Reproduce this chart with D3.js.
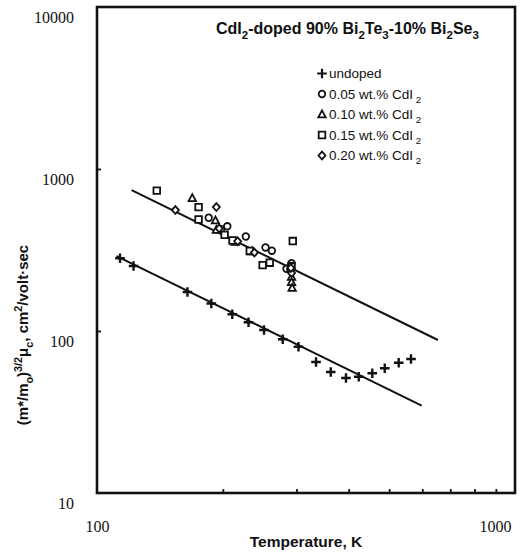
<!DOCTYPE html>
<html>
<head>
<meta charset="utf-8">
<script src="https://cdn.jsdelivr.net/npm/d3@7/dist/d3.min.js"></script>
<style>
  html, body { margin: 0; padding: 0; background: #fff; }
  svg { display: block; }
</style>
</head>
<body>
<svg id="chart" width="528" height="553"></svg>
<script>
// ---------------- DATA ----------------
const xTickLabels = [100, 1000];
const yTickLabels = [10, 100, 1000, 10000];
const xMinorTicks = [200, 300, 400, 500, 600, 700, 800, 900];
const yInnerTicks = [100, 1000];

// undoped (+)
const undopedT = [113.5, 122.3, 164.6, 187.7, 210.7, 230.4, 250.9, 278.2, 303.4, 334.2, 362.4, 394.1, 422.8, 455.6, 488.0, 527.0, 563.9];
const undopedMu = [281, 252, 174, 147.8, 126.8, 113.2, 101.4, 88.9, 80.0, 64.4, 55.8, 51.3, 52.2, 54.8, 58.9, 63.7, 67.2];

// 0.05 wt.% CdI2 (circles)
const c05T = [185, 205, 198, 227, 253, 262, 284, 292, 290, 291];
const c05Mu = [500, 443, 425, 383, 328, 313, 242, 262, 240, 252];
// 0.10 wt.% CdI2 (triangles)
const c10T = [169, 192, 193, 214, 235, 292, 292, 293];
const c10Mu = [660, 480, 420, 354, 309, 215, 200, 184];
// 0.15 wt.% CdI2 (squares)
const c15T = [139, 175, 175, 202, 211, 232, 249, 259, 294, 292];
const c15Mu = [735, 582, 488, 392, 362, 312, 255, 264, 359, 250];
// 0.20 wt.% CdI2 (diamonds)
const c20T = [154, 193, 196, 217, 238, 292, 291];
const c20Mu = [558, 582, 430, 358, 305, 228, 245];

// fitted lines (end points)
const fitDopedT = [121, 654];
const fitDopedMu = [740, 88.0];
const fitUndopedT = [111.4, 598];
const fitUndopedMu = [290, 34.6];

const legendLabels = ["undoped", "0.05 wt.% CdI", "0.10 wt.% CdI", "0.15 wt.% CdI", "0.20 wt.% CdI"];
const legendShapes = ["plus", "circle", "triangle", "square", "diamond"];

// ---------------- CHART ----------------
const svg = d3.select("#chart");
const L = 97, R = 515, T = 7, B = 493;
const x = d3.scaleLog().domain([100, 1000]).range([L, R]);
const y = d3.scaleLog().domain([10, 10000]).range([B, T]);

const ink = "#111";

// marker paths
function markerPath(shape) {
  const p = d3.path();
  if (shape === "plus") {
    const r = 4.8;
    p.moveTo(-r, 0); p.lineTo(r, 0);
    p.moveTo(0, -r); p.lineTo(0, r);
  } else if (shape === "circle") {
    p.arc(0, 0, 3.3, 0, 2 * Math.PI);
  } else if (shape === "square") {
    p.rect(-3.3, -3.3, 6.6, 6.6);
  } else if (shape === "triangle") {
    p.moveTo(0, -4.1); p.lineTo(3.7, 2.8); p.lineTo(-3.7, 2.8); p.closePath();
  } else if (shape === "diamond") {
    p.moveTo(0, -3.9); p.lineTo(3.5, 0); p.lineTo(0, 3.9); p.lineTo(-3.5, 0); p.closePath();
  }
  return p.toString();
}

// fitted lines
const line = d3.line().x(d => x(d[0])).y(d => y(d[1]));
svg.append("path")
  .attr("d", line(d3.zip(fitDopedT, fitDopedMu)))
  .attr("fill", "none").attr("stroke", ink).attr("stroke-width", 2);
svg.append("path")
  .attr("d", line(d3.zip(fitUndopedT, fitUndopedMu)))
  .attr("fill", "none").attr("stroke", ink).attr("stroke-width", 2);

// series
const series = [
  { t: undopedT, m: undopedMu, shape: "plus", sw: 2.4 },
  { t: c05T, m: c05Mu, shape: "circle", sw: 1.8 },
  { t: c10T, m: c10Mu, shape: "triangle", sw: 1.8 },
  { t: c15T, m: c15Mu, shape: "square", sw: 1.8 },
  { t: c20T, m: c20Mu, shape: "diamond", sw: 1.8 }
];
series.forEach(s => {
  svg.append("g").selectAll("path")
    .data(d3.zip(s.t, s.m))
    .join("path")
    .attr("transform", d => `translate(${x(d[0])},${y(d[1])})`)
    .attr("d", markerPath(s.shape))
    .attr("fill", s.shape === "plus" ? "none" : "#fff")
    .attr("stroke", ink)
    .attr("stroke-width", s.sw);
});

// inner ticks
svg.append("g")
  .attr("transform", `translate(0,${B})`)
  .call(d3.axisBottom(x).tickValues(xMinorTicks).tickSize(-4).tickFormat(""))
  .call(g => g.select(".domain").remove())
  .call(g => g.selectAll("line").attr("stroke", ink).attr("stroke-width", 1.8));
svg.append("g")
  .attr("transform", `translate(${L},0)`)
  .call(d3.axisLeft(y).tickValues(yInnerTicks).tickSize(-4).tickFormat(""))
  .call(g => g.select(".domain").remove())
  .call(g => g.selectAll("line").attr("stroke", ink).attr("stroke-width", 1.8));

// frame
svg.append("rect")
  .attr("x", L).attr("y", T).attr("width", R - L).attr("height", B - T)
  .attr("fill", "none").attr("stroke", ink).attr("stroke-width", 2.6);

// tick labels
const xAx = svg.append("g")
  .attr("transform", `translate(0,${B})`)
  .call(d3.axisBottom(x).tickValues(xTickLabels).tickSize(0).tickPadding(28).tickFormat(d3.format("d")));
xAx.select(".domain").remove();
xAx.selectAll("text")
  .attr("font-family", "'Liberation Serif', 'Times New Roman', serif")
  .attr("font-size", 16).attr("fill", ink)
  .attr("dx", (d, i, n) => i === n.length - 1 ? -20 : 0);

const yAx = svg.append("g")
  .attr("transform", `translate(${L},0)`)
  .call(d3.axisLeft(y).tickValues(yTickLabels).tickSize(0).tickPadding(23).tickFormat(d3.format("d")));
yAx.select(".domain").remove();
yAx.selectAll("text")
  .attr("font-family", "'Liberation Serif', 'Times New Roman', serif")
  .attr("font-size", 16).attr("fill", ink)
  .attr("dy", "0.95em");

// rich text helper
function rich(textSel, parts, fs) {
  let cur = 0;
  parts.forEach(([str, mode]) => {
    let target = 0, size = fs;
    if (mode === "sub") { target = fs * 0.32; size = fs * 0.72; }
    if (mode === "sup") { target = -fs * 0.42; size = fs * 0.72; }
    textSel.append("tspan")
      .attr("dy", target - cur)
      .attr("font-size", size)
      .text(str);
    cur = target;
  });
}

// title
const title = svg.append("text")
  .attr("x", 216).attr("y", 34)
  .attr("font-family", "'Liberation Sans', Arial, sans-serif")
  .attr("font-weight", "bold").attr("font-size", 16).attr("fill", ink);
rich(title, [["CdI", "n"], ["2", "sub"], ["-doped 90% Bi", "n"], ["2", "sub"], ["Te", "n"], ["3", "sub"],
  ["-10% Bi", "n"], ["2", "sub"], ["Se", "n"], ["3", "sub"]], 16);

// legend
const legY0 = 73.5, legStep = 20.5;
legendLabels.forEach((lab, i) => {
  const yy = legY0 + i * legStep;
  svg.append("path")
    .attr("transform", `translate(322,${yy})`)
    .attr("d", markerPath(legendShapes[i]))
    .attr("fill", legendShapes[i] === "plus" ? "none" : "#fff")
    .attr("stroke", ink).attr("stroke-width", legendShapes[i] === "plus" ? 2.2 : 1.8);
  const t = svg.append("text")
    .attr("x", 329).attr("y", yy + 4.5)
    .attr("font-family", "'Liberation Sans', Arial, sans-serif")
    .attr("font-size", 13.5).attr("fill", ink);
  if (i === 0) {
    t.text(lab);
  } else {
    rich(t, [[lab, "n"], [" 2", "sub"]], 13.5);
  }
});

// axis titles
svg.append("text")
  .attr("x", (L + R) / 2).attr("y", 547)
  .attr("text-anchor", "middle")
  .attr("font-family", "'Liberation Sans', Arial, sans-serif")
  .attr("font-weight", "bold").attr("font-size", 15.5).attr("fill", ink)
  .text("Temperature, K");

const yt = svg.append("text")
  .attr("transform", "translate(28,335) rotate(-90)")
  .attr("text-anchor", "middle")
  .attr("font-family", "'Liberation Sans', Arial, sans-serif")
  .attr("font-weight", "bold").attr("font-size", 15).attr("fill", ink);
rich(yt, [["(m*/m", "n"], ["o", "sub"], [")", "n"], ["3/2", "sup"], ["μ", "n"], ["c", "sub"],
  [", cm", "n"], ["2", "sup"], ["/volt·sec", "n"]], 15);
</script>
</body>
</html>
